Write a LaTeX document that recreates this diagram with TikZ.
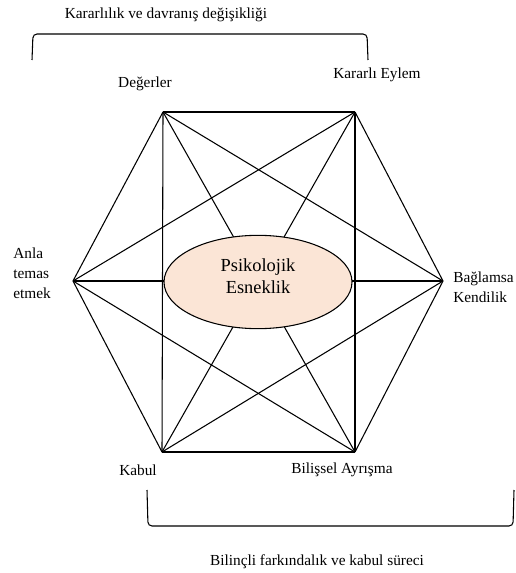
\documentclass[tikz,border=0pt]{standalone}
\usepackage{fontspec}
\setmainfont{Liberation Serif}
\usetikzlibrary{shapes.geometric}
\definecolor{peach}{HTML}{FBE5D6}
\tikzset{
    caption/.style={font=\fontsize{11.5}{15}\selectfont, inner sep=0pt},
    brace/.style={thick, rounded corners=3pt},
}
\begin{document}
\begin{tikzpicture}[x=0.75pt, y=-0.75pt]
        \useasboundingbox (0, 0) rectangle (515, 573);
        % hexagon corners
        \coordinate (val) at (163, 112);
        \coordinate (act) at (355, 112);
        \coordinate (self) at (443, 281);
        \coordinate (defu) at (355, 452);
        \coordinate (acc) at (162, 452);
        \coordinate (pres) at (73, 281);
        \foreach \a/\b in {val/act, val/self, val/defu, val/acc, val/pres,
                act/self, act/defu, act/acc, act/pres,
                self/defu, self/acc, self/pres,
                defu/acc, defu/pres, acc/pres}{
                \draw [thick] (\a) -- (\b);
            }
        \node [draw, thick, fill=peach, ellipse, minimum width=141pt, minimum height=70pt] (core) at (258, 282) {};
        \node [caption, font=\fontsize{13.8}{16.5}\selectfont, align=center] (coretext) at (258, 276) {Psikolojik\\Esneklik};
        % labels
        \node [caption] (valtext) at (145, 84) {Değerler};
        \node [caption] (acttext) at (377, 75) {Kararlı Eylem};
        \node [caption, align=left, anchor=west] (prestext) at (13, 273) {Anla\\temas\\etmek};
        \node [caption, align=left, anchor=west] (selftext) at (453, 287) {Bağlamsa\\Kendilik};
        \node [caption] (acctext) at (138, 470) {Kabul};
        \node [caption] (defutext) at (342, 470) {Bilişsel Ayrışma};
        % brackets
        \node [caption] (toptext) at (166, 15) {Kararlılık ve davranış değişikliği};
        \draw [brace] (32, 60) -- (33, 34) -- (367, 34) -- (368, 60);
        \draw [brace] (147, 490) -- (148, 526) -- (513, 526) -- (514, 490);
        \node [caption] (bottomtext) at (317, 562) {Bilinçli farkındalık ve kabul süreci};
    \end{tikzpicture}
\end{document}
